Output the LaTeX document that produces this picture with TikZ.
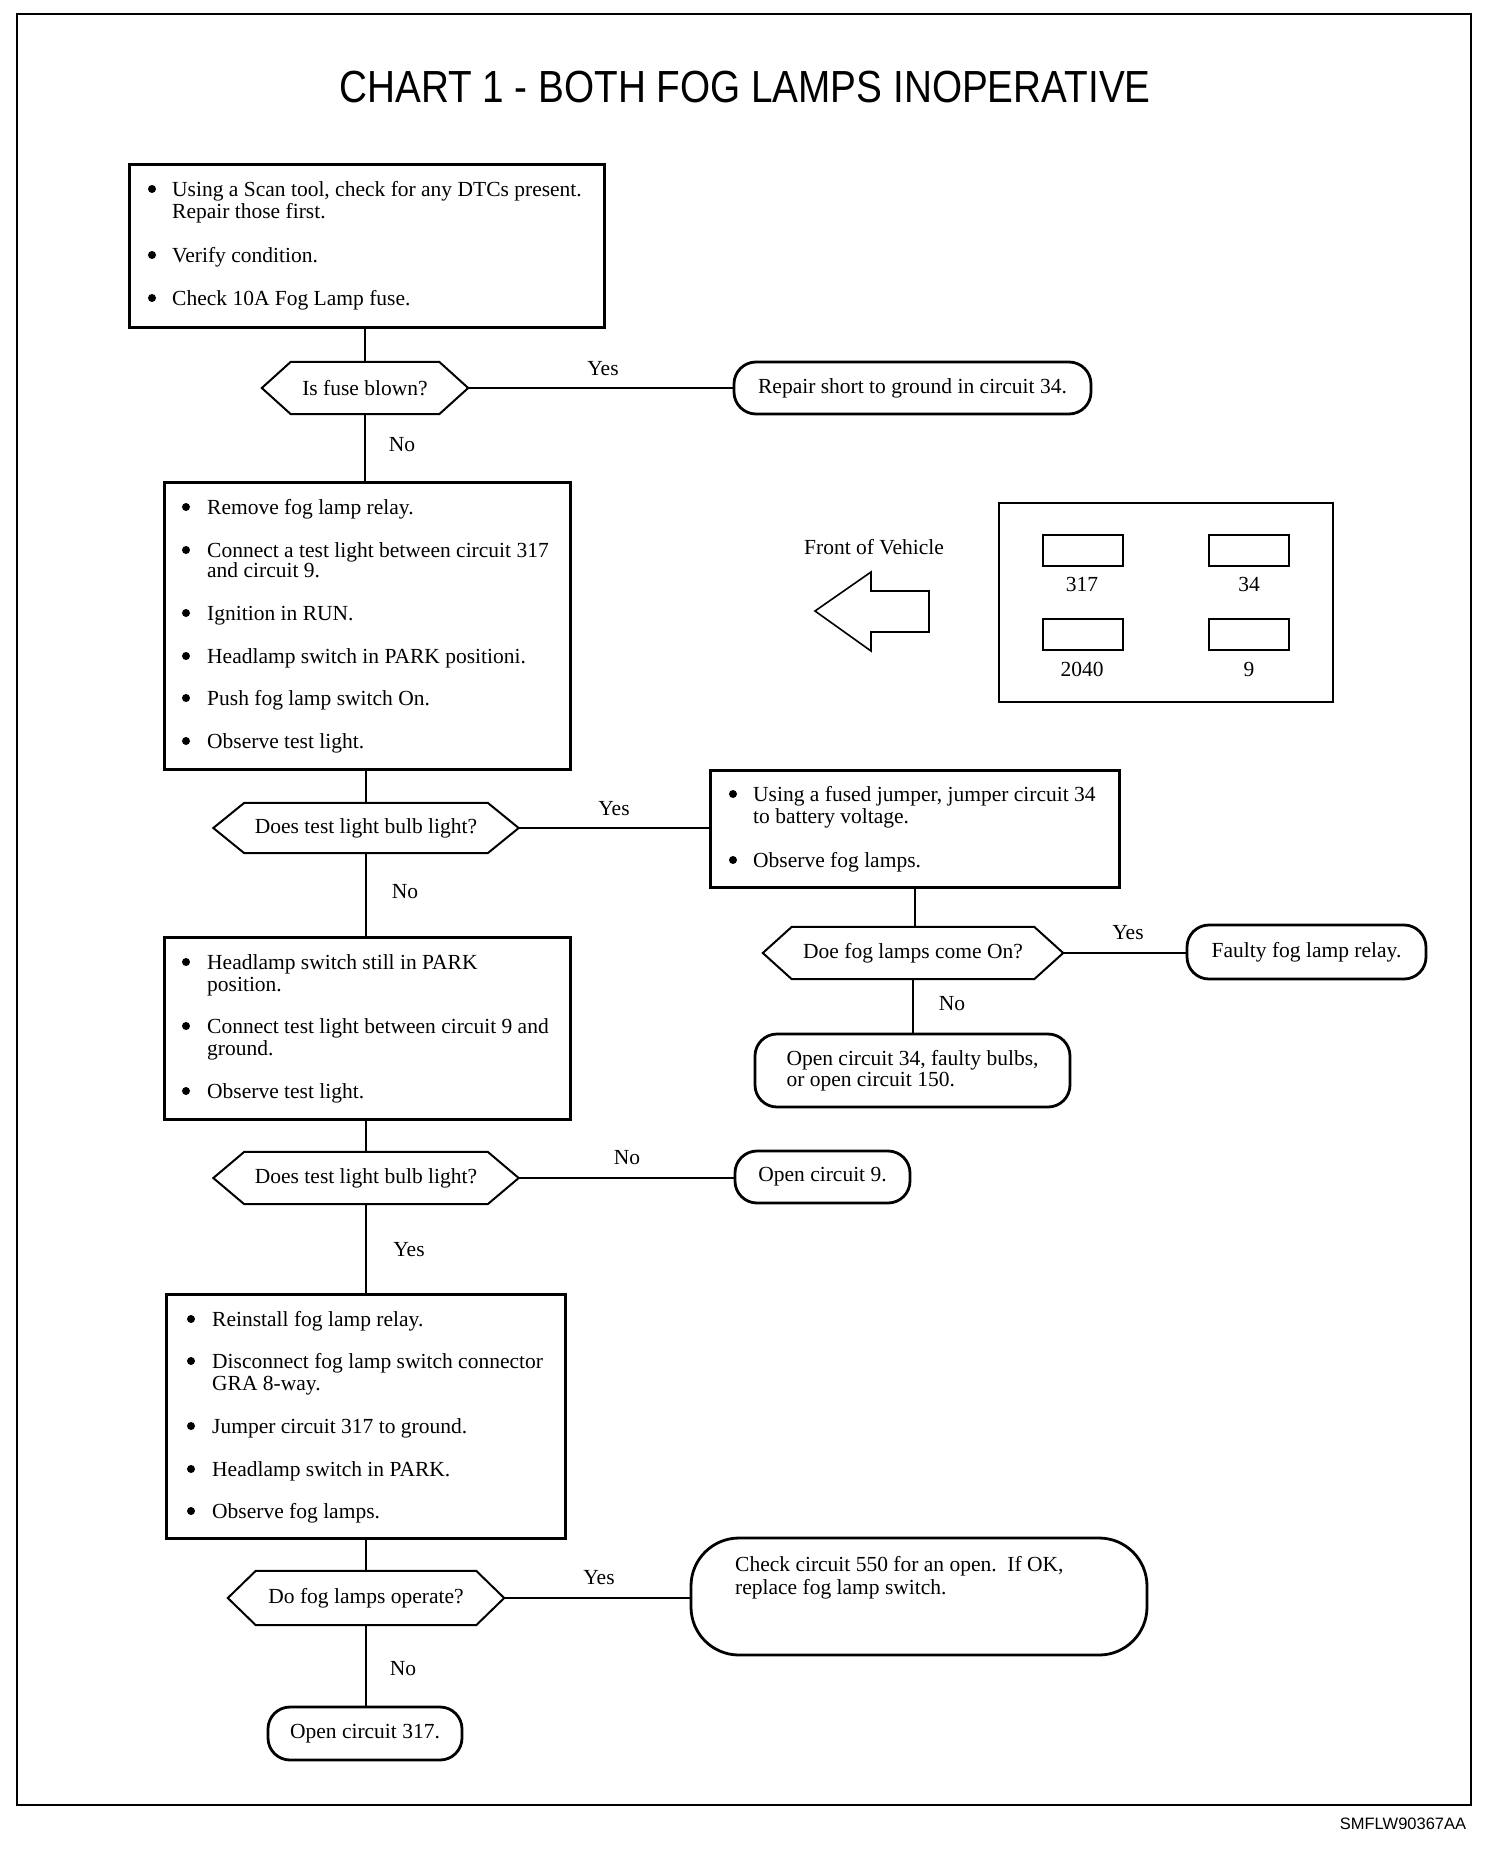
\documentclass[tikz,border=0pt]{standalone}
\usepackage{fontspec}
\setmainfont{Liberation Serif}
\newfontfamily\titlefont[FakeStretch=0.86]{Liberation Sans}
\newfontfamily\footfont{Liberation Sans}
\newcommand\bodyfs{\fontsize{21.5}{21.5}\selectfont}
\newcommand\hexa[2]{%
  \draw[hexline] (#1.west) -- ([xshift=#2]#1.north west) -- ([xshift=-#2]#1.north east)
    -- (#1.east) -- ([xshift=-#2]#1.south east) -- ([xshift=#2]#1.south west) -- cycle;}
\tikzset{
  boxst/.style={draw, line width=2.8pt, inner sep=0pt, anchor=north west},
  decst/.style={inner sep=0pt, font=\bodyfs},
  hexline/.style={line width=2pt, line join=miter},
  termst/.style={draw, line width=2.8pt, rounded corners=22pt, inner sep=0pt, font=\bodyfs},
  conn/.style={line width=1.6pt},
  lbl/.style={inner sep=0pt, font=\bodyfs},
  txt/.style={inner sep=0pt, font=\bodyfs, anchor=base west},
  bul/.style={circle, fill, inner sep=0pt, minimum size=8pt, anchor=center, xshift=4pt, yshift=7pt},
  fusebox/.style={draw, line width=2pt, inner sep=0pt, anchor=north west},
}
\begin{document}
\begin{tikzpicture}[x=1pt, y=-1pt]
\useasboundingbox (0,0) rectangle (1504,1852);
% frame
\draw[line width=2.5pt] (17,14) rectangle (1471,1805);
\node[inner sep=0pt, font=\titlefont\fontsize{45}{45}\selectfont] (title) at (745,87) {CHART 1 - BOTH FOG LAMPS INOPERATIVE};
\node[inner sep=0pt, font=\footfont\fontsize{16.5}{16.5}\selectfont] (code) at (1403,1824) {SMFLW90367AA};

% box 1
\node[boxst, minimum width=475pt, minimum height=163pt] (b1) at (128,163) {};
\node[bul] (b1p1) at (148,196) {};
\node[txt] (b1l1) at (172,196) {Using a Scan tool, check for any DTCs present.};
\node[txt] (b1l2) at (172,218) {Repair those first.};
\node[bul] (b1p2) at (148,262) {};
\node[txt] (b1l3) at (172,262) {Verify condition.};
\node[bul] (b1p3) at (148,305) {};
\node[txt] (b1l4) at (172,305) {Check 10A Fog Lamp fuse.};

% decision 1
\node[decst, minimum width=206pt, minimum height=52pt] (d1) at (365,388) {Is fuse blown?};
\hexa{d1}{29pt}
\node[termst, minimum width=357pt, minimum height=52pt] (t1) at (912.5,388) {Repair short to ground in circuit 34.};
\node[lbl] (y1) at (603,369) {Yes};
\node[lbl] (n1) at (402,445) {No};

% box 2
\node[boxst, minimum width=406pt, minimum height=287pt] (b2) at (163,481) {};
\node[bul] (b2p1) at (182,514) {};
\node[txt] (b2l1) at (207,514) {Remove fog lamp relay.};
\node[bul] (b2p2) at (182,557) {};
\node[txt] (b2l2) at (207,557) {Connect a test light between circuit 317};
\node[txt] (b2l3) at (207,577) {and circuit 9.};
\node[bul] (b2p3) at (182,620) {};
\node[txt] (b2l4) at (207,620) {Ignition in RUN.};
\node[bul] (b2p4) at (182,663) {};
\node[txt] (b2l5) at (207,663) {Headlamp switch in PARK positioni.};
\node[bul] (b2p5) at (182,705) {};
\node[txt] (b2l6) at (207,705) {Push fog lamp switch On.};
\node[bul] (b2p6) at (182,748) {};
\node[txt] (b2l7) at (207,748) {Observe test light.};

% front of vehicle and fuse panel
\node[lbl] (fov) at (874,547) {Front of Vehicle};
\draw[line width=1.6pt, line join=miter] (815,611) -- (871,572) -- (871,591) -- (929,591) -- (929,632) -- (871,632) -- (871,651) -- cycle;
\node[fusebox, minimum width=334pt, minimum height=199pt] (fb) at (998,502) {};
\node[fusebox, minimum width=80pt, minimum height=31pt] (r1) at (1042,534) {};
\node[fusebox, minimum width=80pt, minimum height=31pt] (r2) at (1208,534) {};
\node[fusebox, minimum width=80pt, minimum height=31pt] (r3) at (1042,618) {};
\node[fusebox, minimum width=80pt, minimum height=31pt] (r4) at (1208,618) {};
\node[lbl] (r1t) at (1082,584) {317};
\node[lbl] (r2t) at (1249,584) {34};
\node[lbl] (r3t) at (1082,669) {2040};
\node[lbl] (r4t) at (1249,669) {9};

% decision 2
\node[decst, minimum width=305pt, minimum height=50pt] (d2) at (366,828) {Does test light bulb light?};
\hexa{d2}{31pt}
\node[lbl] (y2) at (614,809) {Yes};
\node[lbl] (n2) at (405,892) {No};

% box 3
\node[boxst, minimum width=409pt, minimum height=117pt] (b3) at (709,769) {};
\node[bul] (b3p1) at (729,801) {};
\node[txt] (b3l1) at (753,801) {Using a fused jumper, jumper circuit 34};
\node[txt] (b3l2) at (753,823) {to battery voltage.};
\node[bul] (b3p2) at (729,867) {};
\node[txt] (b3l3) at (753,867) {Observe fog lamps.};

% decision 3
\node[decst, minimum width=300pt, minimum height=52pt] (d3) at (913,953) {Doe fog lamps come On?};
\hexa{d3}{29pt}
\node[termst, minimum width=239pt, minimum height=54pt] (t2) at (1306.5,952) {Faulty fog lamp relay.};
\node[lbl] (y3) at (1128,933) {Yes};
\node[lbl] (n3) at (952,1004) {No};
\node[termst, minimum width=315pt, minimum height=73pt, align=left, font=\fontsize{21.5}{21.5}\selectfont] (t3) at (912.5,1070.5) {Open circuit 34, faulty bulbs,\\or open circuit 150.};

% box 4
\node[boxst, minimum width=406pt, minimum height=182pt] (b4) at (163,936) {};
\node[bul] (b4p1) at (182,969) {};
\node[txt] (b4l1) at (207,969) {Headlamp switch still in PARK};
\node[txt] (b4l2) at (207,991) {position.};
\node[bul] (b4p2) at (182,1033) {};
\node[txt] (b4l3) at (207,1033) {Connect test light between circuit 9 and};
\node[txt] (b4l4) at (207,1055) {ground.};
\node[bul] (b4p3) at (182,1098) {};
\node[txt] (b4l5) at (207,1098) {Observe test light.};

% decision 4
\node[decst, minimum width=305pt, minimum height=52pt] (d4) at (366,1178) {Does test light bulb light?};
\hexa{d4}{31pt}
\node[termst, minimum width=175pt, minimum height=52pt] (t4) at (822.5,1177) {Open circuit 9.};
\node[lbl] (n4) at (627,1158) {No};
\node[lbl] (y4) at (409,1250) {Yes};

% box 5
\node[boxst, minimum width=399pt, minimum height=244pt] (b5) at (165,1293) {};
\node[bul] (b5p1) at (187,1326) {};
\node[txt] (b5l1) at (212,1326) {Reinstall fog lamp relay.};
\node[bul] (b5p2) at (187,1368) {};
\node[txt] (b5l2) at (212,1368) {Disconnect fog lamp switch connector};
\node[txt] (b5l3) at (212,1390) {GRA 8-way.};
\node[bul] (b5p3) at (187,1433) {};
\node[txt] (b5l4) at (212,1433) {Jumper circuit 317 to ground.};
\node[bul] (b5p4) at (187,1476) {};
\node[txt] (b5l5) at (212,1476) {Headlamp switch in PARK.};
\node[bul] (b5p5) at (187,1518) {};
\node[txt] (b5l6) at (212,1518) {Observe fog lamps.};

% decision 5
\node[decst, minimum width=276pt, minimum height=54pt] (d5) at (366,1598) {Do fog lamps operate?};
\hexa{d5}{28pt}
\node[termst, rounded corners=48pt, minimum width=456pt, minimum height=117pt] (t5) at (919,1596.5) {};
\node[txt] (t5l1) at (735,1571) {Check circuit 550 for an open.\ \ If OK,};
\node[txt] (t5l2) at (735,1594) {replace fog lamp switch.};
\node[lbl] (y5) at (599,1578) {Yes};
\node[lbl] (n5) at (403,1669) {No};
\node[termst, minimum width=194pt, minimum height=53pt] (t6) at (365,1733.5) {Open circuit 317.};

% connectors
\draw[conn] (d1.north |- b1.south) -- (d1.north);
\draw[conn] (d1.east) -- (t1.west);
\draw[conn] (d1.south) -- (d1.south |- b2.north);
\draw[conn] (d2.north |- b2.south) -- (d2.north);
\draw[conn] (d2.east) -- (d2.east -| b3.west);
\draw[conn] (d2.south) -- (d2.south |- b4.north);
\draw[conn] (b3.south) -- (b3.south |- d3.north);
\draw[conn] (d3.east) -- (d3.east -| t2.west);
\draw[conn] (d3.south) -- (d3.south |- t3.north);
\draw[conn] (d4.north |- b4.south) -- (d4.north);
\draw[conn] (d4.east) -- (d4.east -| t4.west);
\draw[conn] (d4.south) -- (d4.south |- b5.north);
\draw[conn] (d5.north |- b5.south) -- (d5.north);
\draw[conn] (d5.east) -- (d5.east -| t5.west);
\draw[conn] (d5.south) -- (d5.south |- t6.north);
\end{tikzpicture}
\end{document}
